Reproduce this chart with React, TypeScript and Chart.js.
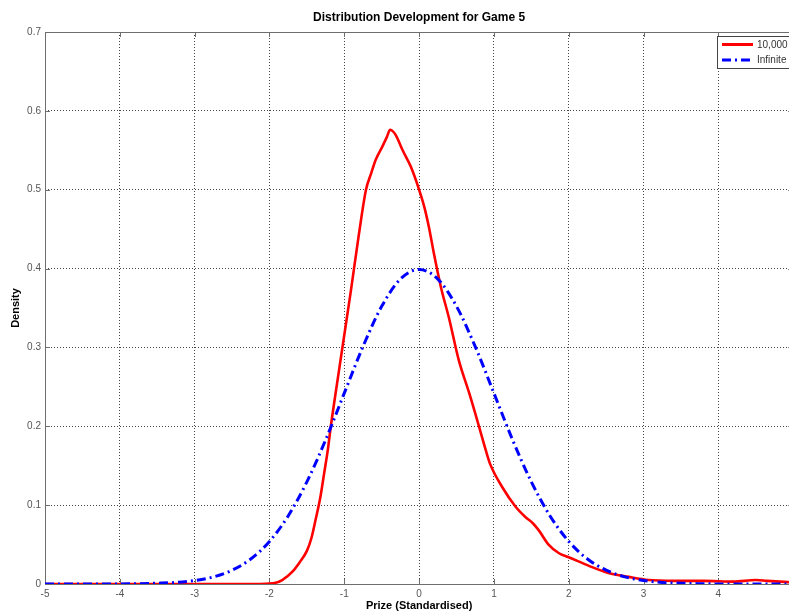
import React, { useEffect, useRef } from "react";
import { Chart, registerables } from "chart.js";

Chart.register(...registerables);

// Simulated prize distribution after 10,000 draws
const redX = [
  -5, -4, -3, -2.2, -1.95, -1.83, -1.69, -1.6, -1.5, -1.44, -1.38, -1.32, -1.27,
  -1.22, -1.18, -1.13, -1.02, -0.91, -0.81, -0.71, -0.64, -0.58, -0.49, -0.43,
  -0.387, -0.35, -0.31, -0.22, -0.11, 0, 0.07, 0.13, 0.2, 0.29, 0.4, 0.53, 0.67,
  0.8, 0.89, 0.95, 1.11, 1.29, 1.42, 1.52, 1.6, 1.73, 1.87, 2.0, 2.27, 2.53, 2.8,
  3.07, 3.4, 3.8, 4.2, 4.5, 4.65, 5,
];
const redY = [
  0, 0, 0, 0, 0.001, 0.005, 0.016, 0.027, 0.042, 0.058, 0.083, 0.11, 0.14,
  0.17, 0.2, 0.233, 0.303, 0.373, 0.44, 0.5, 0.521, 0.538, 0.555, 0.567,
  0.576, 0.574, 0.569, 0.55, 0.529, 0.5, 0.478, 0.453, 0.418, 0.377, 0.337, 0.284, 0.242,
  0.2, 0.17, 0.152, 0.123, 0.098, 0.085, 0.077, 0.068, 0.05, 0.039, 0.034, 0.023, 0.014, 0.009,
  0.005, 0.004, 0.004, 0.003, 0.005, 0.004, 0.002,
];

// Limiting (infinite draws) density
const blueX = [
  -5, -4.5, -4, -3.75, -3.5, -3.25, -3, -2.75, -2.5, -2.25, -2, -1.75, -1.5, -1.25,
  -1, -0.75, -0.5, -0.25, 0, 0.25, 0.5, 0.75, 1, 1.25, 1.5, 1.75, 2, 2.25, 2.5,
  2.75, 3, 3.25, 3.5, 3.75, 4, 4.5, 5,
];
const blueY = [
  0, 0, 0.0001, 0.0004, 0.001, 0.002, 0.0044, 0.009, 0.0175, 0.0317, 0.054, 0.0863,
  0.1295, 0.1826, 0.242, 0.3011, 0.3521, 0.3867, 0.3989, 0.3867, 0.3521, 0.3011,
  0.242, 0.1826, 0.1295, 0.0863, 0.054, 0.0317, 0.0175, 0.009, 0.0044, 0.002, 0.001,
  0.0004, 0.0001, 0, 0,
];

const xTicks = [-5, -4, -3, -2, -1, 0, 1, 2, 3, 4, 5];
const yTicks = [0, 0.1, 0.2, 0.3, 0.4, 0.5, 0.6, 0.7];
const seriesNames = ["10,000", "Infinite"];
const titleText = "Distribution Development for Game 5";
const xTitle = "Prize (Standardised)";
const yTitle = "Density";

const FONT = '"Liberation Sans", Arial, Helvetica, sans-serif';
const RED = "#ff0000";
const BLUE = "#0000ff";
const BLUE_DASH = [9, 4, 2, 4];

const framePlugin = {
  id: "matlabFrame",
  beforeDatasetsDraw(chart: any) {
    const { ctx, chartArea: a, scales } = chart;
    ctx.save();
    ctx.strokeStyle = "#6e6e6e";
    ctx.lineWidth = 1;
    ctx.strokeRect(Math.round(a.left) + 0.5, Math.round(a.top) + 0.5, a.right - a.left, a.bottom - a.top);
    ctx.beginPath();
    for (const v of xTicks) {
      const px = Math.round(scales.x.getPixelForValue(v)) + 0.5;
      ctx.moveTo(px, a.bottom);
      ctx.lineTo(px, a.bottom - 5);
      ctx.moveTo(px, a.top);
      ctx.lineTo(px, a.top + 5);
    }
    for (const v of yTicks) {
      const py = Math.round(scales.y.getPixelForValue(v)) + 0.5;
      ctx.moveTo(a.left, py);
      ctx.lineTo(a.left + 5, py);
      ctx.moveTo(a.right, py);
      ctx.lineTo(a.right - 5, py);
    }
    ctx.stroke();
    ctx.restore();
  },
  afterDraw(chart: any) {
    const { ctx, chartArea: a } = chart;
    const cx = (a.left + a.right) / 2;
    const cy = (a.top + a.bottom) / 2;
    ctx.save();
    ctx.fillStyle = "#000";
    ctx.textAlign = "center";
    ctx.textBaseline = "middle";
    ctx.font = `bold 12px ${FONT}`;
    ctx.fillText(titleText, cx, 18);
    ctx.font = `bold 11px ${FONT}`;
    ctx.fillText(xTitle, cx, 606);
    ctx.translate(16, cy);
    ctx.rotate(-Math.PI / 2);
    ctx.fillText(yTitle, 0, 0);
    ctx.restore();

    // legend box
    ctx.save();
    const bx = 717.5;
    const by = 36.5;
    ctx.fillStyle = "#fff";
    ctx.fillRect(bx, by, 90, 32);
    ctx.strokeStyle = "#444";
    ctx.lineWidth = 1;
    ctx.strokeRect(bx, by, 90, 32);
    ctx.lineWidth = 3;
    ctx.strokeStyle = RED;
    ctx.beginPath();
    ctx.moveTo(722, 44.5);
    ctx.lineTo(753, 44.5);
    ctx.stroke();
    ctx.strokeStyle = BLUE;
    ctx.setLineDash(BLUE_DASH);
    ctx.beginPath();
    ctx.moveTo(722, 60);
    ctx.lineTo(753, 60);
    ctx.stroke();
    ctx.setLineDash([]);
    ctx.fillStyle = "#333";
    ctx.font = `10px ${FONT}`;
    ctx.textAlign = "left";
    ctx.textBaseline = "middle";
    ctx.fillText(seriesNames[0], 757, 45);
    ctx.fillText(seriesNames[1], 757, 60);
    ctx.restore();
  },
};

export default function App() {
  const canvasRef = useRef<HTMLCanvasElement | null>(null);

  useEffect(() => {
    const canvas = canvasRef.current;
    if (!canvas) return;
    const chart = new Chart(canvas, {
      type: "line",
      data: {
        datasets: [
          {
            label: seriesNames[0],
            data: redX.map((x, i) => ({ x, y: redY[i] })),
            borderColor: RED,
            borderWidth: 2.6,
            pointRadius: 0,
            cubicInterpolationMode: "monotone",
            fill: false,
            order: 1,
          },
          {
            label: seriesNames[1],
            data: blueX.map((x, i) => ({ x, y: blueY[i] })),
            borderColor: BLUE,
            borderWidth: 3,
            borderDash: BLUE_DASH,
            pointRadius: 0,
            cubicInterpolationMode: "monotone",
            fill: false,
            order: 0,
          },
        ],
      },
      options: {
        animation: false,
        responsive: false,
        devicePixelRatio: 1,
        layout: { padding: { top: 32, right: 5, left: 0, bottom: 0 } },
        plugins: {
          legend: { display: false },
          title: { display: false },
          tooltip: { enabled: false },
        },
        scales: {
          x: {
            type: "linear",
            min: -5,
            max: 5,
            afterBuildTicks: (s: any) => {
              s.ticks = xTicks.map((v) => ({ value: v }));
            },
            afterFit: (s: any) => {
              s.height = 30;
            },
            grid: { color: "#444", lineWidth: 1, drawTicks: false },
            border: { display: false, dash: [1, 2] },
            ticks: {
              padding: 4,
              color: "#555",
              font: { family: FONT, size: 10 },
              maxRotation: 0,
              callback: (v: any) => String(v),
            },
          },
          y: {
            type: "linear",
            min: 0,
            max: 0.7,
            afterBuildTicks: (s: any) => {
              s.ticks = yTicks.map((v) => ({ value: v }));
            },
            afterFit: (s: any) => {
              s.width = 45;
            },
            grid: { color: "#444", lineWidth: 1, drawTicks: false },
            border: { display: false, dash: [1, 2] },
            ticks: {
              padding: 4,
              color: "#555",
              font: { family: FONT, size: 10 },
              callback: (v: any) => String(Math.round(Number(v) * 10) / 10),
            },
          },
        },
      },
      plugins: [framePlugin],
    });
    return () => chart.destroy();
  }, []);

  return (
    <div
      style={{
        position: "fixed",
        left: 0,
        top: 0,
        width: 789,
        height: 614,
        overflow: "hidden",
        background: "#fff",
      }}
    >
      <canvas ref={canvasRef} width={800} height={614} style={{ display: "block", width: 800, height: 614 }} />
    </div>
  );
}
